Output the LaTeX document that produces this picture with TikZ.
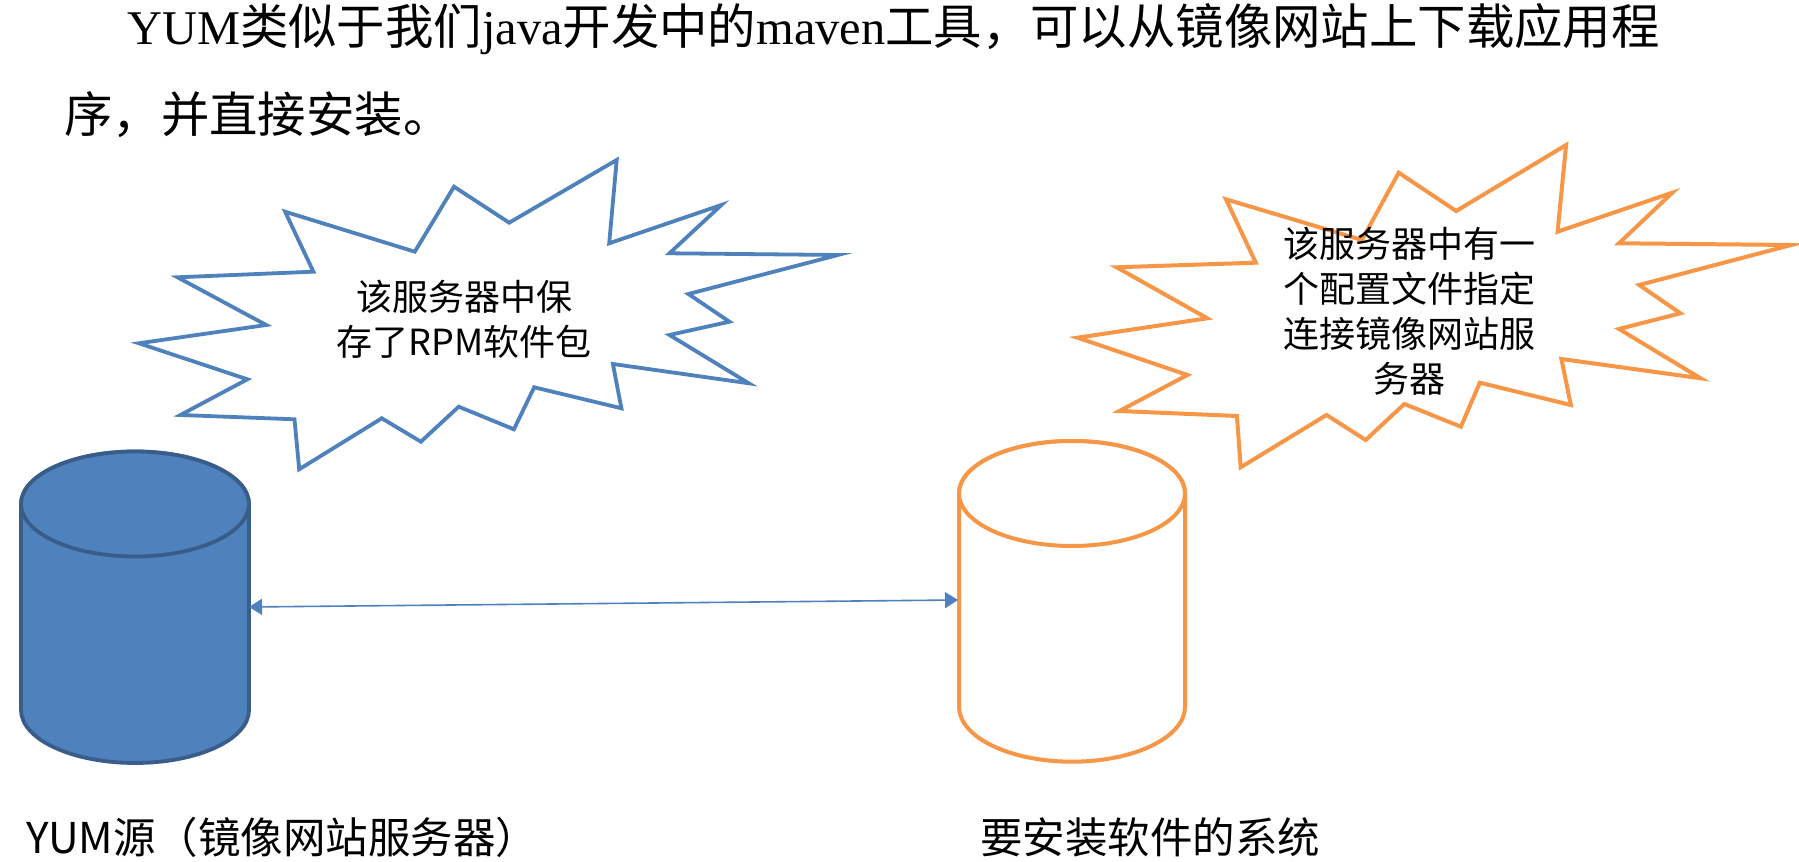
\documentclass[tikz,border=0pt]{standalone}
\usepackage{fontspec}
\setmainfont{Liberation Serif}
\newfontfamily\cjk{Noto Sans CJK SC}
\usetikzlibrary{arrows.meta}
\definecolor{offblue}{HTML}{4F81BD}
\definecolor{offblueDark}{HTML}{385D8A}
\definecolor{offorange}{HTML}{F79646}
\tikzset{
  burstblue/.style={draw=offblue, line width=3.8pt, line join=miter, fill=white},
  burstorange/.style={draw=offorange, line width=4pt, line join=miter, fill=white},
  cylblue/.style={draw=offblueDark, fill=offblue, line width=3.8pt},
  cylorange/.style={draw=offorange, fill=white, line width=4pt},
  bubbletext/.style={align=center, inner sep=0pt, font=\cjk\fontsize{36pt}{45pt}\selectfont},
  titletext/.style={anchor=base west, inner sep=0pt, font=\fontsize{48.4pt}{58pt}\selectfont},
  labeltext/.style={anchor=base west, inner sep=0pt, font=\cjk\fontsize{42.5pt}{50pt}\selectfont},
  link/.style={draw=offblue, line width=1.6pt, {Triangle[length=13pt,width=16pt]}-{Triangle[length=13pt,width=16pt]}}
}
\begin{document}
\begin{tikzpicture}[x=1pt,y=1pt]
\useasboundingbox (0,0) rectangle (1799,862);
\fill[white] (0,0) rectangle (1799,862);

% title
\node[titletext] (title1) at (127,817) {YUM{\cjk 类似于我们}java{\cjk 开发中的}maven{\cjk 工具，可以从镜像网站上下载应用程}};
\node[titletext] (title2) at (64,729) {{\cjk 序，并直接安装。}};

% blue burst
\path[burstblue] (285.1,650.3) -- (414.8,610.3) -- (454.0,675.3) -- (509.2,639.3) -- (616.7,702) -- (609.2,618.7) -- (721.4,657) -- (669.5,608.7) -- (837.9,607) -- (688.4,568) -- (729.4,540.3) -- (669.5,527) -- (748.8,478.7) -- (612.9,498) -- (621.4,453.7) -- (534.2,474.7) -- (513.9,432.7) -- (458.7,455.3) -- (420.9,420.3) -- (381.8,443.7) -- (299.2,392.7) -- (294.5,442.7) -- (180.4,447) -- (247.4,482.7) -- (138.9,518.7) -- (266.2,537) -- (177.5,584.7) -- (313.4,590.3) -- cycle;
\node[bubbletext] (blueText) at (464,543) {该服务器中保\\存了RPM软件包};

% orange burst
\path[burstorange] (1226.0,662.7) -- (1361.9,622) -- (1398.7,689.3) -- (1456.2,651) -- (1566.1,717) -- (1557.6,630.3) -- (1672.3,669.3) -- (1619.0,618.7) -- (1791.1,617) -- (1639.2,577) -- (1680.3,548.7) -- (1619.0,533) -- (1700.6,483.7) -- (1561.4,503) -- (1570.8,457) -- (1479.8,479.3) -- (1460.9,435.3) -- (1404.3,458) -- (1365.7,422) -- (1326.5,447) -- (1240.7,394.7) -- (1236.9,446) -- (1119.4,451) -- (1187.4,487) -- (1077.5,524.3) -- (1207.2,543.7) -- (1116.6,594.7) -- (1255.8,599.3) -- cycle;
\node[bubbletext] (orangeText) at (1409,550.7) {该服务器中有一\\个配置文件指定\\连接镜像网站服\\务器};

% blue cylinder
\path[cylblue] (21,358) -- (21,152) arc[start angle=180, end angle=360, x radius=114pt, y radius=53pt] -- (249,358) arc[start angle=0, end angle=180, x radius=114pt, y radius=52.5pt] -- cycle;
\path[cylblue] (135,358) ellipse[x radius=114pt, y radius=52.5pt];
\coordinate (bluePort) at (249,255);

% orange cylinder
\path[cylorange] (959,368.5) -- (959,155.3) arc[start angle=180, end angle=360, x radius=113pt, y radius=55pt] -- (1185,368.5) arc[start angle=0, end angle=180, x radius=113pt, y radius=52.5pt] -- cycle;
\path[cylorange] (1072,368.5) ellipse[x radius=113pt, y radius=52.5pt];
\coordinate (orangePort) at (958,262);

% connector
\draw[link] (bluePort) -- (orangePort);

% labels
\node[labeltext] (blueLabel) at (26,9) {YUM源（镜像网站服务器）};
\node[labeltext] (orangeLabel) at (980,9) {要安装软件的系统};
\end{tikzpicture}
\end{document}
